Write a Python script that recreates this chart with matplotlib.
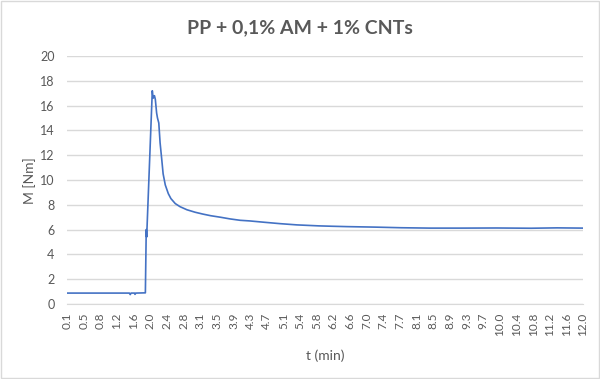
import numpy as np
import matplotlib
matplotlib.use('Agg')
import matplotlib.pyplot as plt
from matplotlib.patches import Rectangle

plt.rcParams['font.family'] = ['Lato', 'DejaVu Sans']

# torque curve (time in min, torque in Nm)
t_min = [0.08, 0.6, 1.2, 1.52, 1.54, 1.56, 1.64, 1.65, 1.67, 1.89,
         1.91, 1.92, 2.05, 2.07, 2.10, 2.12, 2.15, 2.17, 2.20, 2.23,
         2.27, 2.30, 2.35, 2.42, 2.48, 2.58, 2.69, 2.85, 3.04, 3.22,
         3.40, 3.62, 3.85, 4.08, 4.30, 4.61, 5.00, 5.39, 5.90, 6.20,
         6.55, 7.20, 7.80, 8.47, 9.20, 10.0, 10.8, 11.4, 12.0]
torque = [0.88, 0.88, 0.88, 0.88, 0.76, 0.88, 0.88, 0.78, 0.88, 0.90,
          6.00, 5.40, 17.2, 16.6, 16.8, 16.5, 15.4, 15.0, 14.6, 13.0,
          11.6, 10.5, 9.6, 8.9, 8.5, 8.1, 7.85, 7.6, 7.4, 7.25,
          7.12, 7.0, 6.86, 6.75, 6.70, 6.60, 6.48, 6.38, 6.30, 6.27,
          6.24, 6.20, 6.15, 6.12, 6.12, 6.13, 6.11, 6.14, 6.12]

x_labels = ['0.1', '0.5', '0.8', '1.2', '1.6', '2.0', '2.4', '2.8', '3.1', '3.5',
            '3.9', '4.3', '4.7', '5.1', '5.4', '5.8', '6.2', '6.6', '7.0', '7.4',
            '7.7', '8.1', '8.5', '8.9', '9.3', '9.7', '10.0', '10.4', '10.8', '11.2',
            '11.6', '12.0']

grey = '#595959'
fig = plt.figure(figsize=(6, 3.79), dpi=100)
ax = fig.add_axes([0.1117, 0.1979, 0.86, 0.6543])

ax.plot(t_min, torque, color='#4472C4', lw=1.2)

ax.set_xlim(t_min[0], t_min[-1])
ax.set_ylim(0, 20)
ax.set_yticks(np.arange(0, 21, 2))
ax.set_xticks(np.linspace(t_min[0], t_min[-1], len(x_labels)))
ax.set_xticklabels(x_labels, rotation=90)
ax.grid(axis='y', color='#d9d9d9', lw=1)
ax.set_axisbelow(True)
for s in ['top', 'right', 'left']:
    ax.spines[s].set_visible(False)
ax.spines['bottom'].set_color('#d9d9d9')
ax.tick_params(axis='y', length=0, pad=9, labelsize=9, labelcolor=grey)
ax.tick_params(axis='x', length=0, pad=6, labelsize=8.5, labelcolor=grey)

fig.text(0.5, 1 - 28/379, 'PP + 0,1% AM + 1% CNTs', ha='center', va='center',
         fontsize=14, fontweight='bold', color=grey)
fig.text(325/600, 1 - 356/379, 't (min)', ha='center', va='center',
         fontsize=10, color=grey)
fig.text(30/600, 1 - 181/379, 'M [Nm]', ha='center', va='center',
         fontsize=10, color=grey, rotation=90)

fig.patches.append(Rectangle((0.002, 0.003), 0.996, 0.994, transform=fig.transFigure,
                             fill=False, edgecolor='#d9d9d9', lw=1))

fig.savefig('out.png', dpi=100)
